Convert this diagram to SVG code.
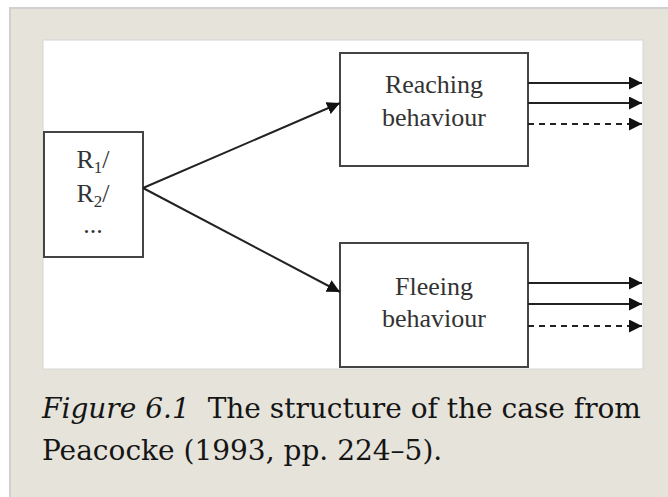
<svg xmlns="http://www.w3.org/2000/svg" width="668" height="497" viewBox="0 0 668 497">
<style>
.box{fill:#fff;stroke:#444;stroke-width:2}
.lbl{font-family:"Liberation Serif",serif;font-size:26px;fill:#333;text-anchor:middle}
.sub{font-size:17px}
.conn{stroke:#222;stroke-width:2;fill:none}
.dash{stroke-dasharray:6 5}
.cap{font-family:"DejaVu Serif",serif;font-size:28px;fill:#151515}
</style>
<defs>
<marker id="ah" markerUnits="userSpaceOnUse" markerWidth="14" markerHeight="14" refX="13" refY="6.5" orient="auto">
<path d="M0,0 L13,6.5 L0,13 z" fill="#111"/>
</marker>
</defs>
<rect x="10" y="8" width="670" height="500" fill="#e5e3da" stroke="#d0d0d0" stroke-width="2"/>
<rect x="43" y="40" width="600" height="329" fill="#fff" stroke="#d6d6d6" stroke-width="1"/>
<g id="node-r">
<rect class="box" x="44" y="132" width="99" height="125"/>
<text class="lbl" x="93" y="168">R<tspan class="sub" dy="5">1</tspan><tspan dy="-5">/</tspan></text>
<text class="lbl" x="93" y="202">R<tspan class="sub" dy="5">2</tspan><tspan dy="-5">/</tspan></text>
<text class="lbl" x="93" y="233">...</text>
</g>
<g id="node-reaching">
<rect class="box" x="340" y="53" width="188" height="113"/>
<text class="lbl" x="434" y="93">Reaching</text>
<text class="lbl" x="434" y="126">behaviour</text>
</g>
<g id="node-fleeing">
<rect class="box" x="340" y="243" width="188" height="124"/>
<text class="lbl" x="434" y="295">Fleeing</text>
<text class="lbl" x="434" y="327">behaviour</text>
</g>
<g id="connectors">
<line class="conn" x1="143" y1="188" x2="340" y2="103" marker-end="url(#ah)"/>
<line class="conn" x1="143" y1="188" x2="340" y2="292" marker-end="url(#ah)"/>
<line class="conn" x1="528" y1="83" x2="642" y2="83" marker-end="url(#ah)"/>
<line class="conn" x1="528" y1="103" x2="642" y2="103" marker-end="url(#ah)"/>
<line class="conn dash" x1="528" y1="124" x2="642" y2="124" marker-end="url(#ah)"/>
<line class="conn" x1="528" y1="283" x2="642" y2="283" marker-end="url(#ah)"/>
<line class="conn" x1="528" y1="304" x2="642" y2="304" marker-end="url(#ah)"/>
<line class="conn dash" x1="528" y1="326" x2="642" y2="326" marker-end="url(#ah)"/>
</g>
<text class="cap" x="42" y="418"><tspan font-style="italic">Figure 6.1</tspan><tspan dx="9"> The structure of the case from</tspan></text>
<text class="cap" x="42" y="460">Peacocke (1993, pp. 224–5).</text>
</svg>
